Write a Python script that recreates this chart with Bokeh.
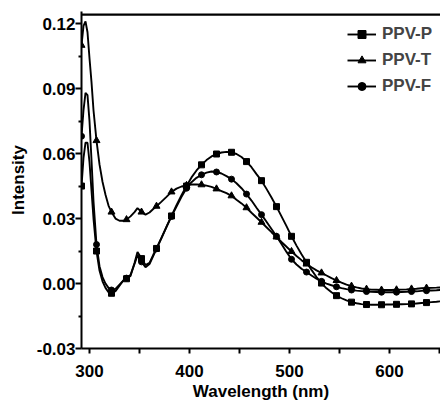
from bokeh.plotting import figure
from bokeh.models import Range1d, FixedTicker, NumeralTickFormatter
from bokeh.embed import file_html
from bokeh.resources import INLINE

# ---------------- data ----------------
wavelength = [292, 294, 296, 298, 300, 302, 304, 307, 310, 313, 316, 319, 322, 326, 330, 334,
              337, 341, 345, 348, 352, 356, 360, 364, 367, 372, 377, 382, 387, 392, 397, 402,
              407, 412, 417, 422, 427, 432, 437, 442, 447, 452, 457, 462, 467, 472, 477, 482,
              487, 492, 497, 502, 507, 512, 517, 522, 527, 532, 537, 542, 547, 552, 557, 562,
              567, 572, 577, 582, 587, 592, 597, 602, 607, 612, 617, 622, 627, 632, 637, 642,
              647, 651]

ppv_p = [0.045, 0.058, 0.065, 0.065, 0.056, 0.043, 0.030, 0.015, 0.006, 0.001, -0.002, -0.004,
         -0.0045, -0.0035, -0.001, 0.0015, 0.0022, 0.0035, 0.0095, 0.0145, 0.0115, 0.0085, 0.0095,
         0.0135, 0.0162, 0.0212, 0.0262, 0.0312, 0.0362, 0.0408, 0.0450, 0.0490, 0.0522, 0.0548,
         0.0570, 0.0587, 0.0598, 0.0605, 0.0608, 0.0606, 0.0598, 0.0584, 0.0563, 0.0537, 0.0505,
         0.0475, 0.0437, 0.0397, 0.0355, 0.0310, 0.0265, 0.0218, 0.0175, 0.0135, 0.0098, 0.0063,
         0.0030, 0.0002, -0.0022, -0.0040, -0.0056, -0.0068, -0.0078, -0.0086, -0.0091, -0.0095,
         -0.0097, -0.0098, -0.0098, -0.0098, -0.0097, -0.0097, -0.0096, -0.0096, -0.0095, -0.0094,
         -0.0092, -0.0090, -0.0088, -0.0086, -0.0084, -0.0082]

ppv_t = [0.110, 0.119, 0.121, 0.116, 0.104, 0.093, 0.080, 0.066, 0.055, 0.047, 0.041, 0.036,
         0.033, 0.030, 0.029, 0.029, 0.0295, 0.031, 0.033, 0.0348, 0.033, 0.0318, 0.0328, 0.0345,
         0.0357, 0.0378, 0.0400, 0.0423, 0.0438, 0.0448, 0.0453, 0.0457, 0.0458, 0.0456, 0.0452,
         0.0446, 0.0437, 0.0427, 0.0417, 0.0405, 0.0387, 0.0370, 0.0350, 0.0327, 0.0305, 0.0283,
         0.0260, 0.0237, 0.0215, 0.0192, 0.0170, 0.0148, 0.0127, 0.0108, 0.0090, 0.0075, 0.0061,
         0.0049, 0.0037, 0.0025, 0.0014, 0.0004, -0.0005, -0.0012, -0.0018, -0.0023, -0.0026,
         -0.0028, -0.0029, -0.0030, -0.0030, -0.0030, -0.0029, -0.0028, -0.0027, -0.0025, -0.0024,
         -0.0022, -0.0021, -0.0020, -0.0019, -0.0018]

ppv_f = [0.068, 0.080, 0.088, 0.087, 0.075, 0.057, 0.038, 0.018, 0.008, 0.003, 0.000, -0.002,
         -0.003, -0.0025, -0.0005, 0.0015, 0.0025, 0.0040, 0.0090, 0.0130, 0.0100, 0.0075, 0.0090,
         0.0130, 0.0160, 0.0210, 0.0262, 0.0310, 0.0355, 0.0400, 0.0440, 0.0468, 0.0488, 0.0502,
         0.0512, 0.0517, 0.0515, 0.0508, 0.0496, 0.0482, 0.0463, 0.0440, 0.0413, 0.0383, 0.0350,
         0.0318, 0.0285, 0.0252, 0.0218, 0.0182, 0.0146, 0.0112, 0.0088, 0.0068, 0.0053, 0.0037,
         0.0022, 0.0010, 0.0000, -0.0008, -0.0015, -0.0021, -0.0026, -0.0030, -0.0033, -0.0035,
         -0.0037, -0.0038, -0.0039, -0.0040, -0.0040, -0.0040, -0.0040, -0.0039, -0.0038, -0.0037,
         -0.0036, -0.0034, -0.0033, -0.0032, -0.0031, -0.0030]

series_names = ["PPV-P", "PPV-T", "PPV-F"]
x_ticks = [300, 400, 500, 600]
x_minor = [350, 450, 550, 650]
y_ticks = [-0.03, 0.0, 0.03, 0.06, 0.09, 0.12]
y_minor = [-0.015, 0.015, 0.045, 0.075, 0.105]
marker_step = 15  # nm between plotted symbols

X_START, X_END = 292, 651
Y_START, Y_TOP = -0.03, 0.1242
Y_PAD = 0.0014  # a few pixels, so the top frame line is not clipped

FONT = "Liberation Sans"

p = figure(width=440, height=405, output_backend="svg", toolbar_location=None,
           x_range=Range1d(X_START, X_END), y_range=Range1d(Y_START, Y_TOP + Y_PAD),
           min_border_left=81, min_border_right=0, min_border_top=11, min_border_bottom=57)
p.title.visible = False
p.outline_line_color = None
p.grid.visible = False
p.background_fill_color = "white"

# top frame line
p.segment(x0=[X_START], y0=[Y_TOP], x1=[X_END], y1=[Y_TOP], line_color="black", line_width=2.2)

styles = [("square", 6), ("triangle", 7), ("circle", 6)]
for name, vals, (mk, sz) in zip(series_names, [ppv_p, ppv_t, ppv_f], styles):
    p.line(wavelength, vals, line_color="black", line_width=1.9, legend_label=name)
    mx = [w for w in wavelength if (w - wavelength[0]) % marker_step == 0]
    my = [v for w, v in zip(wavelength, vals) if (w - wavelength[0]) % marker_step == 0]
    p.scatter(mx, my, marker=mk, size=sz, fill_color="black", line_color="black",
              legend_label=name)

# axes
xa = p.xaxis[0]
xa.ticker = FixedTicker(ticks=x_ticks, minor_ticks=x_minor)
xa.axis_label = "Wavelength (nm)"
ya = p.yaxis[0]
ya.ticker = FixedTicker(ticks=y_ticks, minor_ticks=y_minor)
ya.formatter = NumeralTickFormatter(format="0.00")
ya.axis_label = "Intensity"

for ax in (xa, ya):
    ax.axis_line_width = 2
    ax.axis_line_color = "black"
    ax.major_tick_line_width = 2
    ax.minor_tick_line_width = 2
    ax.major_tick_in = 0
    ax.minor_tick_in = 0
    ax.major_label_text_font = FONT
    ax.major_label_text_font_style = "bold"
    ax.major_label_text_font_size = "17px"
    ax.major_label_text_color = "black"
    ax.axis_label_text_font = FONT
    ax.axis_label_text_font_style = "bold"
    ax.axis_label_text_font_size = "17px"
    ax.axis_label_text_color = "black"

xa.major_tick_out = 5
xa.minor_tick_out = 5
xa.major_label_standoff = 11
xa.axis_label_standoff = 2
ya.major_tick_out = 6
ya.minor_tick_out = 3
ya.major_label_standoff = 0
ya.axis_label_standoff = 6

lg = p.legend[0]
lg.location = (266, 252)
lg.border_line_color = None
lg.background_fill_alpha = 0
lg.padding = 0
lg.margin = 0
lg.spacing = 6
lg.label_height = 20
lg.glyph_height = 20
lg.glyph_width = 29
lg.label_standoff = 6
lg.label_text_font = FONT
lg.label_text_font_style = "bold"
lg.label_text_font_size = "17px"

open("out.html", "w").write(file_html(p, INLINE))
